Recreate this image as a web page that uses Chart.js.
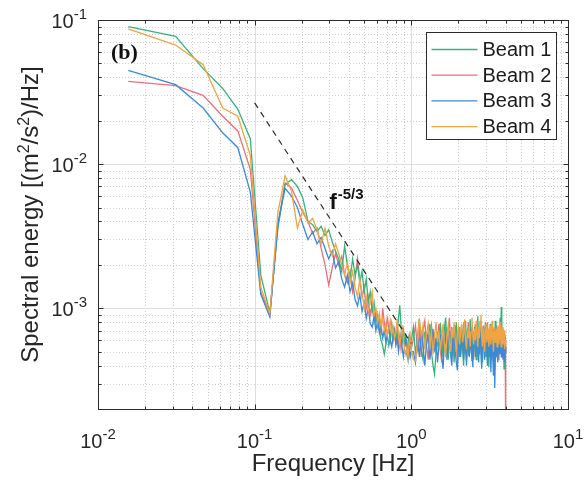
<!DOCTYPE html>
<html>
<head>
<meta charset="utf-8">
<script src="https://cdn.jsdelivr.net/npm/chart.js@4.4.1/dist/chart.umd.min.js"></script>
<style>
  html, body { margin: 0; padding: 0; background: #ffffff; }
  #wrap { width: 588px; height: 488px; }
</style>
</head>
<body>
<div id="wrap"><canvas id="espectro" width="588" height="488"></canvas></div>
<script>
// --- Data ---
const freqHz = [
  0.0156, 0.0313, 0.0469, 0.0625, 0.0781, 0.0938, 0.1094, 0.125, 0.1406, 0.1563,
  0.1719, 0.1875, 0.2031, 0.2188, 0.2344, 0.25, 0.2656, 0.2813, 0.2969, 0.3125,
  0.3281, 0.3438, 0.3594, 0.375, 0.3906, 0.4063, 0.4219, 0.4375, 0.4531, 0.4688,
  0.4844, 0.5, 0.5156, 0.5313, 0.5469, 0.5625, 0.5781, 0.5938, 0.6094, 0.625,
  0.6406, 0.6563, 0.6719, 0.6875, 0.7031, 0.7188, 0.7344, 0.75, 0.7656, 0.7813,
  0.7969, 0.8125, 0.8281, 0.8438, 0.8594, 0.875, 0.8906, 0.9063, 0.9219, 0.9375,
  0.9531, 0.9688, 0.9844, 1.0,
  1.031, 1.063, 1.094, 1.125, 1.156, 1.188, 1.219, 1.25,
  1.281, 1.313, 1.344, 1.375, 1.406, 1.438, 1.469, 1.5,
  1.531, 1.563, 1.594, 1.625, 1.656, 1.688, 1.719, 1.75,
  1.781, 1.813, 1.844, 1.875, 1.906, 1.938, 1.969, 2.0,
  2.031, 2.063, 2.094, 2.125, 2.156, 2.188, 2.219, 2.25,
  2.281, 2.313, 2.344, 2.375, 2.406, 2.438, 2.469, 2.5,
  2.531, 2.563, 2.594, 2.625, 2.656, 2.688, 2.719, 2.75,
  2.781, 2.813, 2.844, 2.875, 2.906, 2.938, 2.969, 3.0,
  3.031, 3.063, 3.094, 3.125, 3.156, 3.188, 3.219, 3.25,
  3.281, 3.313, 3.344, 3.375, 3.406, 3.438, 3.469, 3.5,
  3.531, 3.563, 3.594, 3.625, 3.656, 3.688, 3.719, 3.75,
  3.781, 3.813, 3.844, 3.875, 3.906, 3.938, 3.969, 4.0
];

const beam1 = [
  0.090, 0.077, 0.046, 0.0335, 0.024, 0.0150, 0.0017, 0.00093, 0.0036, 0.0072,
  7.8e-3, 7.0e-3, 5.8e-3, 4.0e-3, 3.8e-3, 3.4e-3, 3.7e-3, 3.2e-3, 3.5e-3, 2.9e-3,
  2.5e-3, 2.2e-3, 1.8e-3, 2.7e-3, 2.0e-3, 1.6e-3, 2.2e-3, 1.7e-3, 2.0e-3, 1.5e-3,
  1.8e-3, 1.3e-3, 1.6e-3, 1.1e-3, 1.3e-3, 9.5e-4, 1.1e-3, 8.0e-4, 9.0e-4, 7.0e-4,
  6.0e-4, 5.5e-4, 4.8e-4, 5.6e-4, 6.5e-4, 5.5e-4, 6.3e-4, 7.5e-4, 6.0e-4, 6.8e-4,
  5.8e-4, 7.2e-4, 8.5e-4, 1.05e-3, 7.5e-4, 6.0e-4, 6.8e-4, 5.5e-4, 6.2e-4, 5.0e-4,
  5.8e-4, 6.5e-4, 5.5e-4, 6.0e-4,
  7.4e-4, 4.8e-4, 6.2e-4, 8.4e-4, 5.2e-4, 4.4e-4, 6.9e-4, 5.6e-4,
  6.4e-4, 7.8e-4, 5.0e-4, 4.0e-4, 3.5e-4, 4.9e-4, 6.8e-4, 5.4e-4,
  7.9e-4, 6.0e-4, 4.6e-4, 7.2e-4, 8.6e-4, 5.8e-4, 4.4e-4, 6.6e-4,
  5.0e-4, 7.4e-4, 6.2e-4, 4.2e-4, 5.9e-4, 8.0e-4, 5.4e-4, 6.8e-4,
  4.6e-4, 5.8e-4, 7.6e-4, 5.2e-4, 4.0e-4, 6.4e-4, 8.2e-4, 5.6e-4,
  7.0e-4, 4.7e-4, 6.0e-4, 8.4e-4, 5.4e-4, 4.3e-4, 6.8e-4, 5.0e-4,
  7.4e-4, 5.8e-4, 4.4e-4, 6.6e-4, 8.8e-4, 6.0e-4, 4.8e-4, 5.6e-4,
  7.6e-4, 5.0e-4, 4.2e-4, 6.4e-4, 7.2e-4, 5.2e-4, 8.0e-4, 6.2e-4,
  4.6e-4, 6.8e-4, 5.4e-4, 3.9e-4, 6.0e-4, 7.8e-4, 5.4e-4, 4.4e-4,
  6.6e-4, 7.4e-4, 5.0e-4, 3.8e-4, 6.2e-4, 8.2e-4, 5.6e-4, 4.6e-4,
  6.8e-4, 5.2e-4, 7.4e-4, 4.8e-4, 6.2e-4, 8.6e-4, 6.0e-4, 1.02e-3,
  6.4e-4, 4.6e-4, 7.2e-4, 5.6e-4, 3.8e-4, 6.6e-4, 5.4e-4, 4.8e-4
];

const beam2 = [
  0.0375, 0.035, 0.030, 0.0215, 0.017, 0.0092, 0.0013, 0.00090, 0.0037, 0.0074,
  6.8e-3, 5.6e-3, 4.6e-3, 4.0e-3, 3.3e-3, 3.6e-3, 2.6e-3, 2.0e-3, 1.45e-3, 1.9e-3,
  2.4e-3, 2.0e-3, 2.3e-3, 1.7e-3, 1.5e-3, 1.8e-3, 1.3e-3, 1.6e-3, 2.2e-3, 1.6e-3,
  1.2e-3, 1.4e-3, 1.0e-3, 1.2e-3, 9.0e-4, 1.05e-3, 8.0e-4, 9.5e-4, 7.5e-4, 8.5e-4,
  6.5e-4, 1.0e-3, 8.0e-4, 6.8e-4, 8.8e-4, 7.0e-4, 6.0e-4, 7.8e-4, 6.5e-4, 7.2e-4,
  5.8e-4, 6.8e-4, 5.5e-4, 6.5e-4, 5.2e-4, 6.0e-4, 7.0e-4, 5.5e-4, 6.2e-4, 5.0e-4,
  5.6e-4, 4.8e-4, 5.8e-4, 5.2e-4,
  6.2e-4, 7.6e-4, 5.2e-4, 6.6e-4, 4.6e-4, 7.0e-4, 8.2e-4, 5.6e-4,
  4.4e-4, 6.4e-4, 7.6e-4, 5.4e-4, 6.8e-4, 4.8e-4, 5.8e-4, 7.8e-4,
  5.2e-4, 4.2e-4, 6.6e-4, 5.4e-4, 7.4e-4, 5.0e-4, 6.8e-4, 8.6e-4,
  6.0e-4, 4.6e-4, 6.6e-4, 5.2e-4, 7.6e-4, 5.6e-4, 4.2e-4, 6.4e-4,
  7.4e-4, 5.0e-4, 6.8e-4, 5.4e-4, 8.0e-4, 4.8e-4, 6.2e-4, 4.4e-4,
  6.8e-4, 8.0e-4, 5.4e-4, 6.6e-4, 5.0e-4, 7.4e-4, 5.8e-4, 4.4e-4,
  6.8e-4, 7.8e-4, 5.2e-4, 6.2e-4, 4.6e-4, 7.2e-4, 5.6e-4, 8.2e-4,
  5.8e-4, 4.4e-4, 6.6e-4, 7.6e-4, 5.4e-4, 6.2e-4, 4.6e-4, 7.0e-4,
  5.6e-4, 8.0e-4, 6.2e-4, 4.8e-4, 6.8e-4, 5.2e-4, 7.4e-4, 4.6e-4,
  6.4e-4, 5.4e-4, 7.2e-4, 4.6e-4, 5.8e-4, 6.8e-4, 5.0e-4, 7.6e-4,
  5.4e-4, 6.4e-4, 4.4e-4, 7.0e-4, 5.8e-4, 6.6e-4, 4.8e-4, 6.2e-4,
  7.4e-4, 5.2e-4, 6.4e-4, 5.6e-4, 7.0e-4, 5.8e-4, 6.0e-4, 1.5e-4
];

const beam3 = [
  0.0447, 0.0356, 0.0245, 0.0165, 0.013, 0.0064, 0.00125, 0.00087, 0.0039, 0.0068,
  6.0e-3, 5.0e-3, 3.8e-3, 3.0e-3, 3.4e-3, 2.8e-3, 3.1e-3, 2.6e-3, 2.2e-3, 2.5e-3,
  1.9e-3, 2.1e-3, 1.6e-3, 1.4e-3, 1.7e-3, 1.3e-3, 1.5e-3, 1.15e-3, 1.04e-3, 1.25e-3,
  9.5e-4, 1.1e-3, 8.5e-4, 1.0e-3, 7.8e-4, 7.4e-4, 8.8e-4, 7.0e-4, 8.2e-4, 6.8e-4,
  7.6e-4, 6.2e-4, 7.0e-4, 5.8e-4, 6.6e-4, 7.4e-4, 6.0e-4, 5.4e-4, 6.4e-4, 7.0e-4,
  5.6e-4, 6.2e-4, 5.0e-4, 5.8e-4, 6.6e-4, 5.2e-4, 4.6e-4, 5.6e-4, 6.2e-4, 5.0e-4,
  4.4e-4, 5.4e-4, 4.6e-4, 5.0e-4,
  5.0e-4, 4.2e-4, 6.2e-4, 4.6e-4, 7.0e-4, 5.4e-4, 4.0e-4, 5.8e-4,
  6.8e-4, 4.4e-4, 5.6e-4, 7.2e-4, 5.0e-4, 6.2e-4, 4.2e-4, 5.4e-4,
  6.6e-4, 4.6e-4, 3.8e-4, 5.6e-4, 6.4e-4, 4.4e-4, 5.8e-4, 7.0e-4,
  4.8e-4, 4.0e-4, 6.2e-4, 7.4e-4, 5.0e-4, 4.2e-4, 3.7e-4, 5.4e-4,
  6.4e-4, 4.6e-4, 5.6e-4, 7.0e-4, 4.4e-4, 6.6e-4, 5.2e-4, 4.0e-4,
  5.8e-4, 6.8e-4, 4.6e-4, 5.4e-4, 7.2e-4, 4.8e-4, 3.9e-4, 6.0e-4,
  6.6e-4, 4.6e-4, 5.4e-4, 7.0e-4, 5.0e-4, 4.2e-4, 5.8e-4, 6.8e-4,
  4.8e-4, 3.8e-4, 5.6e-4, 6.6e-4, 5.2e-4, 4.4e-4, 6.2e-4, 7.2e-4,
  5.0e-4, 4.0e-4, 6.0e-4, 6.8e-4, 4.6e-4, 5.6e-4, 3.6e-4, 5.2e-4,
  6.6e-4, 4.4e-4, 3.4e-4, 5.6e-4, 2.8e-4, 4.6e-4, 6.2e-4, 7.0e-4,
  5.0e-4, 4.2e-4, 6.0e-4, 6.8e-4, 4.8e-4, 5.8e-4, 7.0e-4, 4.6e-4,
  5.6e-4, 6.6e-4, 4.4e-4, 5.2e-4, 6.4e-4, 4.2e-4, 5.0e-4, 5.4e-4
];

const beam4 = [
  0.0867, 0.067, 0.049, 0.0245, 0.0215, 0.0115, 0.0014, 0.00092, 0.0046, 0.0083,
  6.5e-3, 3.6e-3, 4.8e-3, 3.9e-3, 4.2e-3, 3.5e-3, 2.8e-3, 3.6e-3, 2.7e-3, 2.3e-3,
  2.8e-3, 2.4e-3, 2.0e-3, 1.7e-3, 2.1e-3, 1.5e-3, 1.8e-3, 1.4e-3, 1.2e-3, 1.6e-3,
  1.3e-3, 1.0e-3, 1.2e-3, 9.5e-4, 1.1e-3, 1.3e-3, 9.0e-4, 1.0e-3, 8.0e-4, 9.2e-4,
  7.5e-4, 8.5e-4, 7.0e-4, 7.8e-4, 6.5e-4, 7.2e-4, 8.2e-4, 6.6e-4, 7.4e-4, 6.2e-4,
  6.8e-4, 8.4e-4, 6.6e-4, 5.6e-4, 6.4e-4, 7.6e-4, 6.0e-4, 5.2e-4, 4.8e-4, 5.4e-4,
  4.6e-4, 5.6e-4, 6.4e-4, 5.2e-4,
  4.4e-4, 4.3e-4, 6.0e-4, 8.5e-4, 6.4e-4, 7.6e-4, 5.2e-4, 6.6e-4,
  7.8e-4, 5.6e-4, 6.8e-4, 4.8e-4, 6.4e-4, 8.0e-4, 5.8e-4, 7.0e-4,
  5.2e-4, 6.2e-4, 7.8e-4, 5.6e-4, 4.6e-4, 6.6e-4, 7.6e-4, 5.8e-4,
  5.0e-4, 7.2e-4, 6.2e-4, 8.0e-4, 6.0e-4, 5.0e-4, 6.8e-4, 7.4e-4,
  5.6e-4, 6.8e-4, 7.8e-4, 5.8e-4, 6.6e-4, 8.4e-4, 6.0e-4, 5.2e-4,
  7.0e-4, 6.2e-4, 7.6e-4, 5.4e-4, 6.8e-4, 8.6e-4, 6.4e-4, 5.6e-4,
  7.2e-4, 6.0e-4, 8.2e-4, 6.6e-4, 5.4e-4, 7.4e-4, 6.2e-4, 8.0e-4,
  9.0e-4, 6.4e-4, 5.4e-4, 7.2e-4, 6.0e-4, 5.0e-4, 6.6e-4, 7.8e-4,
  5.8e-4, 6.4e-4, 7.2e-4, 5.4e-4, 6.8e-4, 7.6e-4, 5.6e-4, 6.4e-4,
  8.2e-4, 6.0e-4, 5.0e-4, 6.8e-4, 7.4e-4, 5.8e-4, 6.6e-4, 7.2e-4,
  5.4e-4, 6.2e-4, 7.6e-4, 5.6e-4, 6.6e-4, 8.0e-4, 6.0e-4, 5.4e-4,
  6.8e-4, 7.4e-4, 5.6e-4, 6.2e-4, 7.0e-4, 5.2e-4, 6.0e-4, 5.6e-4
];

// Reference slope f^-5/3 (end points of the dashed line)
const slopeFreq = [0.1, 1.0];
const slopeVal = [0.0266, 5.7e-4];

const beamLabels = ['Beam 1', 'Beam 2', 'Beam 3', 'Beam 4'];
const beamColors = ['#34b37b', '#ec6e7a', '#3b8ad9', '#f0a443'];

// Axis decades and their tick labels (10^exp)
const xDecades = [0.01, 0.1, 1, 10];
const xExpLabels = ['-2', '-1', '0', '1'];
const yDecades = [1e-3, 1e-2, 1e-1];
const yExpLabels = ['-3', '-2', '-1'];

const FONT = '"Liberation Sans", Arial, sans-serif';
const AXIS_COLOR = '#2b2b2b';

// --- Helpers ---
function toPoints(xs, ys) {
  return xs.map((x, i) => ({ x: x, y: ys[i] }));
}

// Draws "10" with a raised exponent; align = 'center' or 'right'
function drawPower(ctx, x, y, exp, align) {
  ctx.font = `20px ${FONT}`;
  const wBase = ctx.measureText('10').width;
  ctx.font = `15px ${FONT}`;
  const wExp = ctx.measureText(exp).width;
  const total = wBase + wExp;
  const x0 = align === 'right' ? x - total : x - total / 2;
  ctx.textAlign = 'left';
  ctx.textBaseline = 'alphabetic';
  ctx.font = `20px ${FONT}`;
  ctx.fillText('10', x0, y);
  ctx.font = `15px ${FONT}`;
  ctx.fillText(exp, x0 + wBase, y - 9);
}

// Draws a sequence of [text, isSuperscript] pieces centred on 0
function drawRichCentered(ctx, pieces, baseSize, supSize, raise) {
  let total = 0;
  pieces.forEach(p => {
    ctx.font = `${p[1] ? supSize : baseSize}px ${FONT}`;
    total += ctx.measureText(p[0]).width;
  });
  let x = -total / 2;
  ctx.textAlign = 'left';
  ctx.textBaseline = 'alphabetic';
  pieces.forEach(p => {
    ctx.font = `${p[1] ? supSize : baseSize}px ${FONT}`;
    ctx.fillText(p[0], x, p[1] ? -raise : 0);
    x += ctx.measureText(p[0]).width;
  });
}

// minor positions 2..9 x decade inside [min, max]
function logMinors(min, max) {
  const out = [];
  for (let d = Math.pow(10, Math.floor(Math.log10(min))); d < max; d *= 10) {
    for (let k = 2; k <= 9; k++) {
      const v = k * d;
      if (v > min * 1.0001 && v < max * 0.9999) out.push(v);
    }
  }
  return out;
}

// --- Plugin: MATLAB-like axes, grid, labels and legend ---
const matlabAxes = {
  id: 'matlabAxes',
  beforeDatasetsDraw(chart) {
    const { ctx, chartArea: a, scales } = chart;
    const xs = scales.x, ys = scales.y;
    ctx.save();
    ctx.lineWidth = 1;

    // minor grid (dotted)
    ctx.strokeStyle = '#cfcfcf';
    ctx.setLineDash([1, 2]);
    logMinors(xs.min, xs.max).forEach(v => {
      const px = Math.round(xs.getPixelForValue(v)) + 0.5;
      ctx.beginPath(); ctx.moveTo(px, a.top); ctx.lineTo(px, a.bottom); ctx.stroke();
    });
    logMinors(ys.min, ys.max).forEach(v => {
      const py = Math.round(ys.getPixelForValue(v)) + 0.5;
      ctx.beginPath(); ctx.moveTo(a.left, py); ctx.lineTo(a.right, py); ctx.stroke();
    });

    // major grid (solid)
    ctx.setLineDash([]);
    ctx.strokeStyle = '#dddddd';
    xDecades.forEach(v => {
      const px = Math.round(xs.getPixelForValue(v)) + 0.5;
      ctx.beginPath(); ctx.moveTo(px, a.top); ctx.lineTo(px, a.bottom); ctx.stroke();
    });
    yDecades.forEach(v => {
      const py = Math.round(ys.getPixelForValue(v)) + 0.5;
      ctx.beginPath(); ctx.moveTo(a.left, py); ctx.lineTo(a.right, py); ctx.stroke();
    });
    ctx.restore();
  },
  afterDatasetsDraw(chart) {
    const { ctx, chartArea: a, scales } = chart;
    const xs = scales.x, ys = scales.y;
    const L = Math.round(a.left) + 0.5, R = Math.round(a.right) + 0.5;
    const T = Math.round(a.top) + 0.5, B = Math.round(a.bottom) + 0.5;
    ctx.save();

    // box
    ctx.strokeStyle = AXIS_COLOR;
    ctx.lineWidth = 1;
    ctx.strokeRect(L, T, R - L, B - T);

    // inward ticks on all four sides
    const tickX = (v, len) => {
      const px = Math.round(xs.getPixelForValue(v)) + 0.5;
      ctx.beginPath();
      ctx.moveTo(px, B); ctx.lineTo(px, B - len);
      ctx.moveTo(px, T); ctx.lineTo(px, T + len);
      ctx.stroke();
    };
    const tickY = (v, len) => {
      const py = Math.round(ys.getPixelForValue(v)) + 0.5;
      ctx.beginPath();
      ctx.moveTo(L, py); ctx.lineTo(L + len, py);
      ctx.moveTo(R, py); ctx.lineTo(R - len, py);
      ctx.stroke();
    };
    logMinors(xs.min, xs.max).forEach(v => tickX(v, 3));
    logMinors(ys.min, ys.max).forEach(v => tickY(v, 3));
    xDecades.forEach(v => tickX(v, 5));
    yDecades.forEach(v => tickY(v, 5));

    // tick labels
    ctx.fillStyle = '#262626';
    xDecades.forEach((v, i) => drawPower(ctx, xs.getPixelForValue(v), a.bottom + 39, xExpLabels[i], 'center'));
    yDecades.forEach((v, i) => drawPower(ctx, a.left - 11, ys.getPixelForValue(v) + 8, yExpLabels[i], 'right'));

    // axis titles
    ctx.font = `24px ${FONT}`;
    ctx.textAlign = 'center';
    ctx.textBaseline = 'alphabetic';
    ctx.fillText('Frequency [Hz]', (a.left + a.right) / 2, a.bottom + 62);

    ctx.save();
    ctx.translate(38, (a.top + a.bottom) / 2);
    ctx.rotate(-Math.PI / 2);
    drawRichCentered(ctx, [['Spectral energy [(m', false], ['2', true], ['/s', false], ['2', true], [')/Hz]', false]], 24, 16, 9);
    ctx.restore();

    // panel label
    ctx.font = `bold 22px "Liberation Serif", "Times New Roman", serif`;
    ctx.textAlign = 'left';
    ctx.fillStyle = '#111111';
    ctx.fillText('(b)', a.left + 13, a.top + 39);

    // slope annotation, anchored in data space
    const fx = xs.getPixelForValue(0.3), fy = ys.getPixelForValue(4.9e-3);
    ctx.font = `bold 22px ${FONT}`;
    ctx.fillText('f', fx, fy);
    const wf = ctx.measureText('f').width;
    ctx.font = `bold 15px ${FONT}`;
    ctx.fillText('-5/3', fx + wf + 1, fy - 10);

    // legend
    const boxW = 130, boxH = 107;
    const bx = Math.round(a.right - 12 - boxW) + 0.5, by = Math.round(a.top + 12) + 0.5;
    ctx.fillStyle = '#ffffff';
    ctx.fillRect(bx, by, boxW, boxH);
    ctx.strokeStyle = AXIS_COLOR;
    ctx.lineWidth = 1;
    ctx.strokeRect(bx, by, boxW, boxH);
    ctx.font = `20px ${FONT}`;
    ctx.textBaseline = 'middle';
    beamLabels.forEach((lab, i) => {
      const cy = by + 17 + i * 25.7;
      ctx.strokeStyle = beamColors[i];
      ctx.lineWidth = 1.3;
      ctx.beginPath(); ctx.moveTo(bx + 5, cy); ctx.lineTo(bx + 51, cy); ctx.stroke();
      ctx.fillStyle = '#1a1a1a';
      ctx.fillText(lab, bx + 56, cy + 1);
    });
    ctx.restore();
  }
};

// --- Chart ---
const beamData = [beam1, beam2, beam3, beam4];
const drawOrder = [3, 4, 2, 1]; // orange on top, red at the bottom

const datasets = beamData.map((vals, i) => ({
  label: beamLabels[i],
  data: toPoints(freqHz, vals),
  borderColor: beamColors[i],
  borderWidth: 1.3,
  pointRadius: 0,
  tension: 0,
  order: drawOrder[i]
}));

datasets.push({
  label: 'f^-5/3',
  data: toPoints(slopeFreq, slopeVal),
  borderColor: '#2a2a2a',
  borderWidth: 1.2,
  borderDash: [6, 5],
  pointRadius: 0,
  order: 0
});

new Chart(document.getElementById('espectro'), {
  type: 'line',
  data: { datasets: datasets },
  options: {
    responsive: false,
    devicePixelRatio: 1,
    animation: false,
    layout: { padding: { top: 20, right: 20, left: 0, bottom: 0 } },
    scales: {
      x: {
        type: 'logarithmic', min: 0.01, max: 10,
        ticks: { display: false }, grid: { display: false }, border: { display: false },
        afterFit: s => { s.height = 79; }
      },
      y: {
        type: 'logarithmic', min: 2e-4, max: 0.1,
        ticks: { display: false }, grid: { display: false }, border: { display: false },
        afterFit: s => { s.width = 98; }
      }
    },
    plugins: {
      legend: { display: false },
      tooltip: { enabled: false }
    }
  },
  plugins: [matlabAxes]
});
</script>
</body>
</html>
